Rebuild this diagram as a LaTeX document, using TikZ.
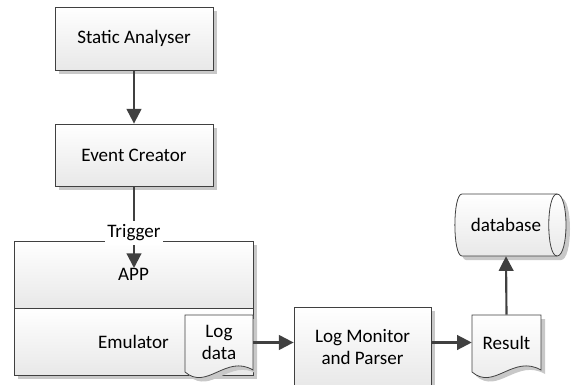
\documentclass[tikz,border=0pt]{standalone}
\usepackage{fontspec}
\setmainfont{Carlito}
\usetikzlibrary{arrows.meta,shadows,calc}
\definecolor{edge}{HTML}{404040}
\definecolor{shade}{HTML}{C8C8C8}
\tikzset{
  boxfill/.style={top color=white,bottom color=black!9},
  shad/.style={drop shadow={shadow xshift=3pt,shadow yshift=-3pt,fill=shade,opacity=1}},
  procbox/.style={draw=edge,line width=0.6pt,boxfill,shad,inner sep=0pt,
    font=\fontsize{14.3}{17}\selectfont,align=center},
  txt/.style={inner sep=0pt,font=\fontsize{14.3}{17}\selectfont,align=center},
  shapeline/.style={draw=edge,line width=0.6pt,boxfill,shad},
  conn/.style={draw=edge,line width=1.6pt,-{Triangle[length=11pt,width=11pt]}},
}
\begin{document}
\begin{tikzpicture}[x=0.75pt,y=-0.75pt]
\useasboundingbox (0,0) rectangle (571,385);
% boxes
\node[procbox,minimum width=158*0.75pt,minimum height=63*0.75pt] (sa) at (134,38.5) {Static Analyser};
\node[procbox,minimum width=158*0.75pt,minimum height=62*0.75pt] (ec) at (134,155) {Event Creator};
\node[procbox,minimum width=239*0.75pt,minimum height=67*0.75pt] (app) at (133.5,274.5) {APP};
\node[procbox,minimum width=239*0.75pt,minimum height=67*0.75pt] (emu) at (133.5,341.5) {Emulator};
\node[procbox,minimum width=137*0.75pt,minimum height=80*0.75pt] (lm) at (362.5,347) {Log Monitor\\and Parser};
% log data document
\path[shapeline] (185,315) -- (253,315) -- (253,370)
  .. controls (226,354) and (207,391) .. (185,372) -- cycle;
\node[txt,minimum width=68*0.75pt,minimum height=55*0.75pt] (ld) at (219,342.5) {Log\\data};
% result document
\path[shapeline] (472,315) -- (541,315) -- (541,370)
  .. controls (513,354) and (494,391) .. (472,372) -- cycle;
\node[txt,minimum width=69*0.75pt,minimum height=55*0.75pt] (res) at (506.5,342.5) {Result};
% database cylinder
\path[shapeline] (462,194) -- (557,194) .. controls (569,194) and (569,256) .. (557,256)
  -- (462,256) .. controls (452.5,256) and (452.5,194) .. (462,194) -- cycle;
\draw[edge,line width=0.6pt] (557,194) .. controls (546,194) and (546,256) .. (557,256);
\node[txt,minimum width=102*0.75pt,minimum height=62*0.75pt] (db) at (506,225) {database};
% connectors
\coordinate (tt) at (134,268);
\draw[conn] (sa.south) -- (ec.north);
\draw[conn] (ec.south) -- (tt);
\node[txt,fill=white,inner xsep=2pt,inner ysep=3pt] (trig) at (134,233) {Trigger};
\draw[conn] (ld.east) -- (ld.east -| lm.west);
\draw[conn] (lm.east |- res.west) -- (res.west);
\draw[conn] (res.north) -- (db.south);
\end{tikzpicture}
\end{document}
